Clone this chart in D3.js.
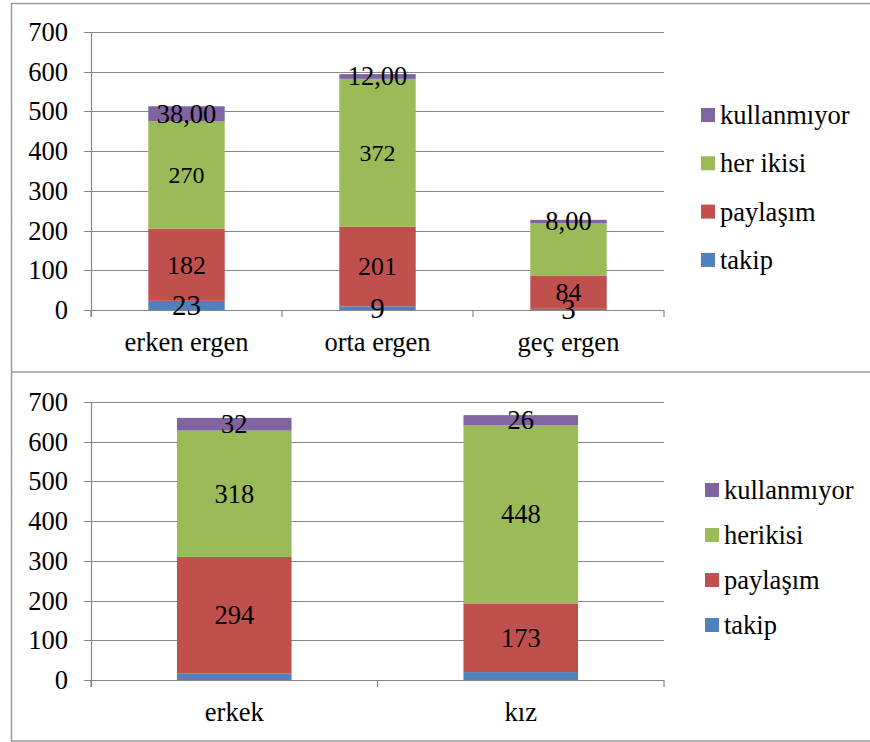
<!DOCTYPE html>
<html><head><meta charset="utf-8">
<script src="https://cdn.jsdelivr.net/npm/d3@7"></script>
</head>
<body style="margin:0;padding:0;background:#fff">
<svg id="c" width="870" height="742" style="display:block"></svg>
<script>
// ---- data ----
const seriesKeys = ["takip", "paylaşım", "her ikisi", "kullanmıyor"];
const seriesColors = ["#4F81BD", "#C0504D", "#9BBB59", "#8064A2"];

const topCategories = ["erken ergen", "orta ergen", "geç ergen"];
const topTakip = [23, 9, 3];
const topPaylasim = [182, 201, 84];
const topHerIkisi = [270, 372, 132];
const topKullanmiyor = [38, 12, 8];
const topLabels = [
  ["23", "182", "270", "38,00"],
  ["9", "201", "372", "12,00"],
  ["3", "84", "", "8,00"]
];
const topLegend = ["kullanmıyor", "her ikisi", "paylaşım", "takip"];

const botCategories = ["erkek", "kız"];
const botTakip = [16, 20];
const botPaylasim = [294, 173];
const botHerIkisi = [318, 448];
const botKullanmiyor = [32, 26];
const botLabels = [
  ["", "294", "318", "32"],
  ["", "173", "448", "26"]
];
const botLegend = ["kullanmıyor", "herikisi", "paylaşım", "takip"];

const yTicks = [0, 100, 200, 300, 400, 500, 600, 700];

// ---- drawing ----
const FONT = "Liberation Serif";
const svg = d3.select("#c");
const gridColor = "#868686";

// outer frames
svg.append("path")
  .attr("d", "M11.5,742 L11.5,3.5 L870,3.5 M11.5,372 L870,372 M11.5,741 L870,741")
  .attr("fill", "none").attr("stroke", "#9a9a9a").attr("stroke-width", 1.5);

function drawChart(cfg) {
  const g = svg.append("g");
  const y = d3.scaleLinear().domain([0, 700]).range([cfg.y0, cfg.y0 - 278]);
  const x = d3.scaleBand().domain(cfg.categories).range([91, 664]).paddingInner(0).paddingOuter(0);

  // gridlines
  g.selectAll(".grid").data(yTicks).join("line")
    .attr("x1", 84).attr("x2", 664)
    .attr("y1", d => Math.round(y(d)) + 0.5).attr("y2", d => Math.round(y(d)) + 0.5)
    .attr("stroke", gridColor).attr("stroke-width", 1.2);

  // y axis line
  g.append("line").attr("x1", 91.5).attr("x2", 91.5)
    .attr("y1", y(700)).attr("y2", y(0) + 7)
    .attr("stroke", gridColor).attr("stroke-width", 1.2);

  // category boundary ticks
  const bounds = cfg.categories.map(c => x(c)).concat([x.range()[1]]);
  g.selectAll(".xt").data(bounds).join("line")
    .attr("x1", d => d).attr("x2", d => d)
    .attr("y1", y(0)).attr("y2", y(0) + 7)
    .attr("stroke", gridColor).attr("stroke-width", 1.2);

  // y tick labels
  g.selectAll(".yl").data(yTicks).join("text")
    .attr("x", 68).attr("y", d => y(d)).attr("dy", "0.34em")
    .attr("text-anchor", "end").style("font-family", FONT).style("font-size", "26.5px").attr("fill", "#000")
    .text(d => d);

  // stacked data
  const rows = cfg.categories.map((c, i) => ({
    cat: c,
    "takip": cfg.takip[i], "paylaşım": cfg.paylasim[i],
    "her ikisi": cfg.herIkisi[i], "kullanmıyor": cfg.kullanmiyor[i]
  }));
  const stack = d3.stack().keys(seriesKeys)(rows);
  const bw = x.bandwidth() * 0.4;
  const cx = c => x(c) + x.bandwidth() / 2;

  stack.forEach((layer, li) => {
    g.selectAll(null).data(layer).join("rect")
      .attr("x", d => cx(d.data.cat) - bw / 2)
      .attr("width", bw)
      .attr("y", d => y(d[1]))
      .attr("height", d => y(d[0]) - y(d[1]))
      .attr("fill", seriesColors[li]);
  });
  stack.forEach((layer, li) => {
    g.selectAll(null).data(layer).join("text")
      .attr("x", d => cx(d.data.cat))
      .attr("y", d => (y(d[0]) + y(d[1])) / 2)
      .attr("dy", "0.34em")
      .attr("text-anchor", "middle")
      .style("font-family", FONT)
      .style("font-size", cfg.labelSizes[li] + "px")
      .attr("fill", "#000")
      .text((d, i) => cfg.labels[i][li]);
  });

  // category labels
  g.selectAll(".cl").data(cfg.categories).join("text")
    .attr("x", d => cx(d)).attr("y", y(0) + 32).attr("dy", "0.34em")
    .attr("text-anchor", "middle").style("font-family", FONT).style("font-size", "26.5px").attr("fill", "#000")
    .text(d => d);

  // legend
  const legColors = [seriesColors[3], seriesColors[2], seriesColors[1], seriesColors[0]];
  cfg.legend.forEach((t, i) => {
    const ly = cfg.legY + i * cfg.legStep;
    g.append("rect").attr("x", cfg.legX).attr("y", ly - 7).attr("width", 14).attr("height", 14)
      .attr("fill", legColors[i]);
    g.append("text").attr("x", cfg.legX + 19).attr("y", ly).attr("dy", "0.34em")
      .style("font-family", FONT).style("font-size", "26.5px").attr("fill", "#000").text(t);
  });
}

drawChart({
  categories: topCategories, takip: topTakip, paylasim: topPaylasim,
  herIkisi: topHerIkisi, kullanmiyor: topKullanmiyor, labels: topLabels,
  labelSizes: [29, 26, 24, 26.5],
  legend: topLegend, y0: 310, legX: 701, legY: 115, legStep: 48.3
});
drawChart({
  categories: botCategories, takip: botTakip, paylasim: botPaylasim,
  herIkisi: botHerIkisi, kullanmiyor: botKullanmiyor, labels: botLabels,
  labelSizes: [26.5, 26.5, 26.5, 26.5],
  legend: botLegend, y0: 680, legX: 705, legY: 490, legStep: 45
});
</script>
</body></html>
